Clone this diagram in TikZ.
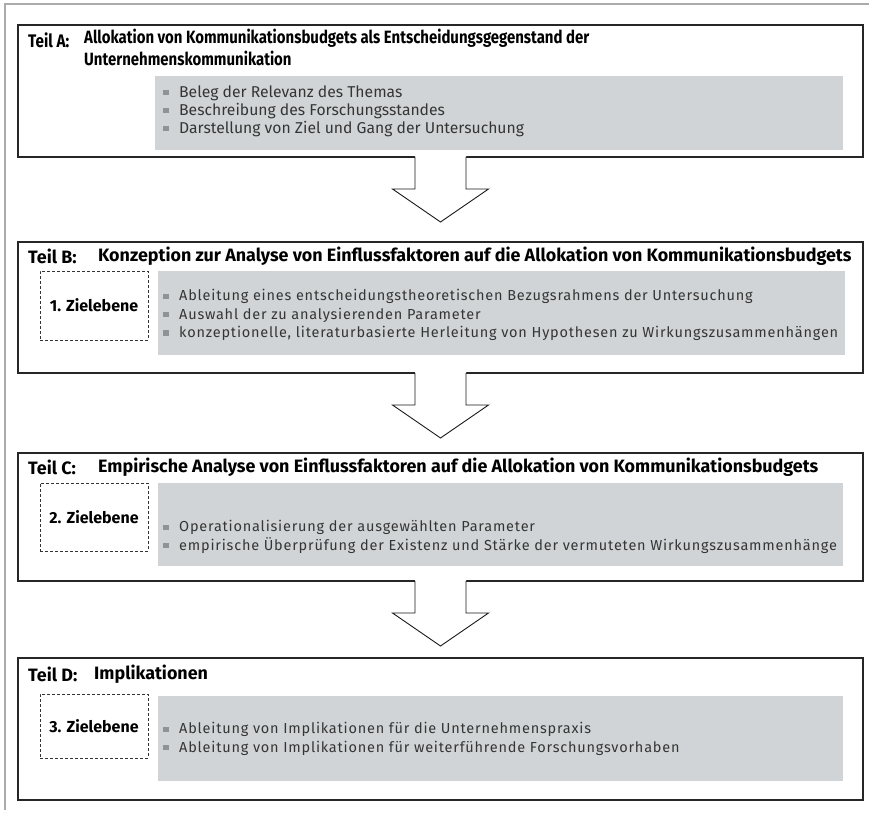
\documentclass[tikz,border=0pt]{standalone}
\usepackage{fontspec}
\setmainfont{Fira Sans}
\newfontfamily\narrowfont[FakeStretch=0.84]{Fira Sans}
\newfontfamily\bodyfont[LetterSpace=5.5]{Fira Sans}
\definecolor{panel}{HTML}{D1D4D6}
\definecolor{bulletc}{HTML}{909294}
\definecolor{bodytext}{HTML}{353535}
\definecolor{framegrey}{HTML}{ABABAB}
\newcommand\itm{\textcolor{bulletc}{\rule[1.8pt]{5.5pt}{5.5pt}}\hspace{10.5pt}}
\begin{document}
\begin{tikzpicture}[x=1pt,y=-1pt,
  part/.style={draw=black!85, line width=1.1pt, outer sep=0, inner sep=0, anchor=north west},
  panelbox/.style={fill=panel, draw=none, outer sep=0, inner sep=0, anchor=north west},
  goalbox/.style={draw=black!80, dash pattern=on 3pt off 2pt, line width=0.8pt, outer sep=0, inner sep=0, anchor=north west,
    font=\bfseries\fontsize{16}{18}\selectfont},
  label/.style={anchor=west, inner sep=0, font=\bfseries\fontsize{17.9}{22}\selectfont},
  title/.style={anchor=west, inner sep=0, align=left, font=\bfseries\fontsize{17.9}{22}\selectfont},
  items/.style={anchor=west, inner sep=0, align=left, text=bodytext, font=\bodyfont\fontsize{14.5}{18.3}\selectfont},
  arrowline/.style={draw=black!90, line width=0.9pt, line join=miter}]
\useasboundingbox (0,0) rectangle (869,813);

% page frame
\draw[framegrey, line width=2pt] (869,4) -- (5,4) -- (5,810);

% Teil A
\node[part, minimum width=845, minimum height=132] (A) at (18,25) {};
\node[panelbox, minimum width=688, minimum height=74] (pA) at (155,76) {};
\node[label, font=\narrowfont\bfseries\fontsize{18.2}{22}\selectfont] (tA) at (28,40) {Teil A:};
\node[title, anchor=north west, font=\narrowfont\bfseries\fontsize{17.8}{22}\selectfont] (hA) at (84,28.5)
  {Allokation von Kommunikationsbudgets als Entscheidungsgegenstand der\\Unternehmenskommunikation};
\node[items, font=\fontsize{15.7}{18}\selectfont] (iA) at (163,111)
  {\itm Beleg der Relevanz des Themas\\\itm Beschreibung des Forschungsstandes\\\itm Darstellung von Ziel und Gang der Untersuchung};

% Teil B
\node[part, minimum width=845, minimum height=131] (B) at (18,242) {};
\node[panelbox, minimum width=687, minimum height=84] (pB) at (158,271) {};
\node[goalbox, minimum width=108, minimum height=69] (gB) at (40,271) {1. Zielebene};
\node[label] (tB) at (28,256) {Teil B:};
\node[title] (hB) at (98,256) {Konzeption zur Analyse von Einflussfaktoren auf die Allokation von Kommunikationsbudgets};
\node[items] (iB) at (163,315)
  {\itm Ableitung eines entscheidungstheoretischen Bezugsrahmens der Untersuchung\\\itm Auswahl der zu analysierenden Parameter\\\itm konzeptionelle, literaturbasierte Herleitung von Hypothesen zu Wirkungszusammenhängen};

% Teil C
\node[part, minimum width=845, minimum height=128] (C) at (18,453) {};
\node[panelbox, minimum width=685, minimum height=83] (pC) at (158,483) {};
\node[goalbox, minimum width=108, minimum height=68] (gC) at (40,483) {2. Zielebene};
\node[label] (tC) at (28,467) {Teil C:};
\node[title] (hC) at (98,467) {Empirische Analyse von Einflussfaktoren auf die Allokation von Kommunikationsbudgets};
\node[items] (iC) at (163,537)
  {\itm Operationalisierung der ausgewählten Parameter\\\itm empirische Überprüfung der Existenz und Stärke der vermuteten Wirkungszusammenhänge};

% Teil D
\node[part, minimum width=845, minimum height=142] (D) at (18,658) {};
\node[panelbox, minimum width=685, minimum height=85] (pD) at (158,696) {};
\node[goalbox, minimum width=108, minimum height=64] (gD) at (40,694) {3. Zielebene};
\node[label] (tD) at (28,674) {Teil D:};
\node[title] (hD) at (94,674) {Implikationen};
\node[items] (iD) at (163,739)
  {\itm Ableitung von Implikationen für die Unternehmenspraxis\\\itm Ableitung von Implikationen für weiterführende Forschungsvorhaben};

% block arrows from each part to the next
\foreach \from/\to in {A/B, B/C, C/D}{
  \fill[white] (\from.south) ++(-25.5,-1.2) -- ++(0,33.2) -- ++(-22.5,0) -- ++(48,33) -- ++(48,-33) -- ++(-22.5,0) -- ++(0,-33.2) -- cycle;
  \draw[arrowline] (\from.south) ++(-25.5,0) -- ++(0,32) -- ++(-22.5,0) -- ++(48,33) -- ++(48,-33) -- ++(-22.5,0) -- ++(0,-32);
}
\end{tikzpicture}
\end{document}
